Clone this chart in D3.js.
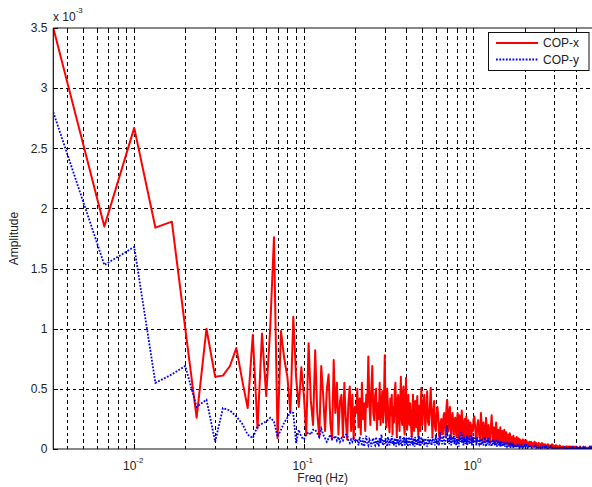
<!DOCTYPE html>
<html><head><meta charset="utf-8">
<script src="https://cdn.jsdelivr.net/npm/d3@7"></script>
<style>
body{margin:0;background:#fff}
svg{display:block}
text{font-family:Arial,"Liberation Sans",sans-serif;fill:#222}
</style>
</head><body>
<svg id="chart" width="592" height="487"></svg>
<script>
// ---------- data ----------
const seriesNames = ["COP-x", "COP-y"];
const binWidthHz = 1 / 300;            // frequency resolution
// frequency bins used: [first, last, step] (bin k -> k * binWidthHz)
const binSegments = [[1, 150, 1], [152, 300, 2], [304, 600, 4], [608, 1496, 8]];
const valueUnit = 1e-5;                 // values below are in units of 1e-5
const copX = [
  // k 1..60
  350,185,267,184,189,100,26,100,60,61, 69,84,57,34,95,17,96,44,100,176,
  9,98,75,60,30,110,60,35,68,45, 12,88,40,20,82,30,10,69,45,15,
  50,62,22,8,74,30,55,12,40,45, 10,55,25,8,40,52,15,45,8,35,
  // k 61..150
  30,50,18,42,12,55,25,38,15,45, 35,77,40,20,50,69,30,24,45,50,
  16,38,25,55,20,35,48,22,40,78, 30,18,50,35,22,14,42,28,45,12,
  35,22,48,55,30,10,40,45,25,15, 38,60,28,20,45,52,18,12,35,59,
  30,16,40,45,22,20,38,28,15,10, 30,45,25,15,35,40,22,18,36,44,
  20,10,28,36,18,15,40,51,25,20,
  // k 152..300 step 2
  38,45,15,30,48,22,20,35,51,28, 10,32,40,18,15,28,35,27,12,8,
  22,25,14,12,28,30,18,10,35,41, 28,15,30,35,20,8,25,30,22,12,
  20,26,18,10,24,30,15,8,28,25, 12,20,32,22,8,18,22,25,10,15,
  27,20,7,18,24,14,10,20,22,12, 6,18,20,15,24,
  // k 304..600 step 4
  27,15,6,20,24,12,8,30,18,5, 22,14,7,26,16,6,20,12,5,18,
  28,15,7,18,10,5,22,14,6,16, 12,4,18,10,5,15,8,4,16,10,
  5,14,8,4,12,6,3,13,7,4, 10,6,3,11,5,3,9,6,3,10,
  5,3,9,4,2,8,5,3,7,4, 2,8,4,2,7,
  // k 608..1496 step 8
  3,7,4,2,6,3,6,2,5,3, 6,2,5,3,1,5,2,4,2,5,
  1,4,2,4,1,3,2,4,1,3, 2,3,1,4,2,3,1,2,3,1,
  3,1,2,2,1,3,1,2,1,2, 2,1,2,1,1,2,1,2,0,2,
  1,2,1,1,2,0,1,2,1,1, 1,2,0,1,1,2,0,1,1,0,
  1,1,0,1,2,0,1,1,0,1, 1,0,1,1,0,1,0,1,1,0,
  1,0,1,0,1,1,0,1,0,1, 0,1
];
const copY = [
  // k 1..60
  280,153,168,55,62,69,35,41,6,34, 32,27,21,12,9,19,21,23,26,23,
  10,16,22,26,31,30,5,16,10,8, 12,14,12,16,16,13,10,17,12,9,
  6,9,12,8,9,11,7,10,6,9, 7,10,12,12,7,5,8,6,9,7,
  // k 61..150
  6,8,3,10,5,4,9,2,6,11, 5,3,8,6,2,7,9,4,3,10,
  4,7,2,9,5,12,6,3,8,4, 9,5,2,10,6,3,8,5,11,4,
  7,3,9,6,2,10,5,8,3,7, 11,4,6,2,9,5,10,3,7,8,
  4,9,2,6,10,5,3,8,11,4, 7,3,9,5,2,10,6,4,8,3,
  9,5,11,3,7,2,8,10,4,6,
  // k 152..300 step 2
  7,3,9,5,2,10,4,8,6,3, 10,5,8,3,12,6,4,9,3,11,
  14,6,4,9,11,5,3,8,12,20, 6,9,4,12,7,3,10,5,8,11,
  4,9,6,3,10,5,8,2,11,6, 9,14,5,12,8,3,10,6,9,4,
  7,11,3,9,6,10,4,8,12,5, 9,3,10,6,12,
  // k 304..600 step 4
  5,9,3,10,6,4,8,3,9,5, 3,10,6,2,8,4,9,3,7,5,
  2,8,4,7,3,6,8,2,5,7, 3,6,2,7,4,2,6,3,5,2,
  6,3,2,5,4,2,5,3,1,4, 3,2,5,1,3,4,2,1,4,2,
  3,1,4,2,1,3,2,1,3,2, 1,3,1,2,3,
  // k 608..1496 step 8
  2,3,1,3,2,1,3,1,2,2, 1,3,1,2,2,1,2,1,2,1,
  2,1,1,2,1,2,0,1,2,1, 1,2,1,0,2,1,1,1,0,1,
  2,1,0,1,1,1,0,1,1,0, 1,1,0,1,0,1,1,0,1,0,
  1,0,1,0,1,1,0,1,0,1, 0,1,0,1,0,1,0,1,0,1,
  1,0,0,1,0,1,0,1,0,0, 1,0,1,0,0,1,0,1,0,0,
  1,0,0,1,0,1,0,0,1,0, 1,0
];
const yTickValues = [0, 0.5, 1, 1.5, 2, 2.5, 3, 3.5];   // x 10^-3
const yTickLabels = ["0", "0.5", "1", "1.5", "2", "2.5", "3", "3.5"];
const xMajorTicks = [0.01, 0.1, 1];
const xTickExponents = ["-2", "-1", "0"];
const xDomain = [1 / 300, 5];
const yDomainMax = 3.5e-3;

// ---------- build ----------
const bins = binSegments.flatMap(([a, b, s]) => d3.range(a, b + 1, s));
if (bins.length !== copX.length || bins.length !== copY.length)
  console.error("length mismatch", bins.length, copX.length, copY.length);
const freqs = bins.map(k => k * binWidthHz);
const seriesX = freqs.map((f, i) => ({f, v: copX[i] * valueUnit}));
const seriesY = freqs.map((f, i) => ({f, v: copY[i] * valueUnit}));

const L = 53.3, R = 592, T = 28, B = 449;
const svg = d3.select("#chart");
const x = d3.scaleLog().domain(xDomain).range([L, R]);
const y = d3.scaleLinear().domain([0, yDomainMax]).range([B, T]);

svg.append("defs").append("clipPath").attr("id", "clip")
  .append("rect").attr("x", L).attr("y", T).attr("width", R - L).attr("height", B - T);

// grid
const xGrid = x.ticks().filter(t => t > xDomain[0] * 1.001 && t < xDomain[1] * 0.999);
const grid = svg.append("g").attr("stroke", "#000").attr("stroke-width", 1)
  .attr("stroke-dasharray", "3.5,3").attr("shape-rendering", "crispEdges");
grid.selectAll("line.vx").data(xGrid).join("line")
  .attr("x1", d => Math.round(x(d)) + 0.5).attr("x2", d => Math.round(x(d)) + 0.5)
  .attr("y1", B).attr("y2", T);
grid.selectAll("line.hy").data(yTickValues.slice(1, -1)).join("line")
  .attr("y1", d => Math.round(y(d * 1e-3)) + 0.5).attr("y2", d => Math.round(y(d * 1e-3)) + 0.5)
  .attr("x1", L).attr("x2", R);

// ticks (inside)
const tk = svg.append("g").attr("stroke", "#000").attr("stroke-width", 1).attr("shape-rendering", "crispEdges");
xGrid.forEach(t => {
  const len = xMajorTicks.includes(t) ? 5 : 3;
  const px = Math.round(x(t)) + 0.5;
  tk.append("line").attr("x1", px).attr("x2", px).attr("y1", B).attr("y2", B - len);
  tk.append("line").attr("x1", px).attr("x2", px).attr("y1", T).attr("y2", T + len);
});
yTickValues.forEach(t => {
  const py = Math.round(y(t * 1e-3)) + 0.5;
  tk.append("line").attr("x1", L).attr("x2", L + 5).attr("y1", py).attr("y2", py);
});

// lines
const line = d3.line().x(d => x(d.f)).y(d => y(d.v));
const plot = svg.append("g").attr("clip-path", "url(#clip)");
plot.append("path").datum(seriesX).attr("d", line)
  .attr("fill", "none").attr("stroke", "#ff0000").attr("stroke-width", 2)
  .attr("stroke-linejoin", "round");
plot.append("path").datum(seriesY).attr("d", line)
  .attr("fill", "none").attr("stroke", "#0000ee").attr("stroke-width", 1.8)
  .attr("stroke-dasharray", "1.8,1.5");

// axes box
svg.append("path").attr("d", `M${L},${T}H${R}M${L},${T}V${B}H${R}`)
  .attr("fill", "none").attr("stroke", "#111").attr("stroke-width", 1.2);

// y tick labels
svg.append("g").selectAll("text").data(yTickValues).join("text")
  .attr("x", 47.5).attr("y", d => y(d * 1e-3)).attr("dy", "0.36em")
  .attr("text-anchor", "end").attr("font-size", 12).text((d, i) => yTickLabels[i]);

// x tick labels 10^n
xMajorTicks.forEach((t, i) => {
  const tx = svg.append("text").attr("x", x(t) - 1).attr("y", 470)
    .attr("text-anchor", "middle").attr("font-size", 12);
  tx.append("tspan").text("10");
  tx.append("tspan").attr("dy", -7).attr("font-size", 8).text(xTickExponents[i]);
});

// exponent label
const ex = svg.append("text").attr("x", 53).attr("y", 21).attr("font-size", 12);
ex.append("tspan").text("x 10");
ex.append("tspan").attr("dy", -8).attr("font-size", 8).text("-3");

// axis titles
svg.append("text").attr("x", (L + R) / 2).attr("y", 482).attr("text-anchor", "middle")
  .attr("font-size", 12).text("Freq (Hz)");
svg.append("text").attr("transform", `translate(17.5,${(T + B) / 2}) rotate(-90)`)
  .attr("text-anchor", "middle").attr("font-size", 12).text("Amplitude");

// legend
const lg = svg.append("g");
lg.append("rect").attr("x", 488.5).attr("y", 32.5).attr("width", 100.5).attr("height", 38)
  .attr("fill", "#fff").attr("stroke", "#111").attr("stroke-width", 1);
const legendStyles = [
  {color: "#ff0000", dash: null, w: 2},
  {color: "#0000ee", dash: "1.8,1.5", w: 1.8}
];
seriesNames.forEach((name, i) => {
  const ly = 43 + i * 16.5;
  const s = legendStyles[i];
  lg.append("line").attr("x1", 496).attr("x2", 538).attr("y1", ly).attr("y2", ly)
    .attr("stroke", s.color).attr("stroke-width", s.w).attr("stroke-dasharray", s.dash);
  lg.append("text").attr("x", 543).attr("y", ly).attr("dy", "0.36em")
    .attr("font-size", 12).text(name);
});
</script>
</body></html>
